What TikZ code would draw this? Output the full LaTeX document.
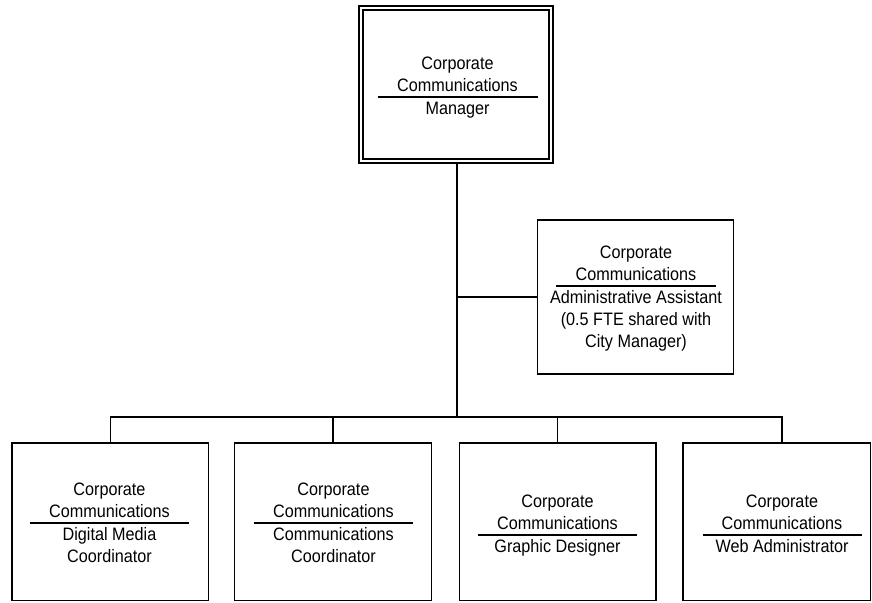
\documentclass[tikz,border=0pt]{standalone}
\usepackage{fontspec}
\setmainfont{Liberation Sans}[FakeStretch=0.9]
\begin{document}
\begin{tikzpicture}[x=1pt,y=-1pt,
  box/.style={draw,line width=1.2pt,rectangle,inner sep=0pt,outer sep=0pt},
  wire/.style={line width=1.3pt},
  titlerule/.style={line width=1.3pt},
  uptext/.style={anchor=south,align=center,inner xsep=0pt,inner ysep=5.5pt,text depth=0pt},
  lowtext/.style={anchor=north,align=center,inner xsep=0pt,inner ysep=4.5pt},
  every node/.append style={font=\fontsize{18}{22}\selectfont}]
\useasboundingbox (0,0) rectangle (872,602);

% manager box with double border
\node[box,double,double distance=2.8pt,minimum width=190pt,minimum height=153pt] (mgr) at (456,84.5) {};
\coordinate (mgrrule) at (457.5,97);
\draw[titlerule] ([xshift=-80pt]mgrrule) -- ([xshift=80pt]mgrrule);
\node[uptext] (mgr-u) at (mgrrule) {Corporate\\Communications};
\node[lowtext] (mgr-l) at (mgrrule) {Manager};

% assistant box
\node[box,minimum width=196pt,minimum height=154pt] (asst) at (635.5,297) {};
\coordinate (asstrule) at (636,286);
\draw[titlerule] ([xshift=-80pt]asstrule) -- ([xshift=80pt]asstrule);
\node[uptext] (asst-u) at (asstrule) {Corporate\\Communications};
\node[lowtext] (asst-l) at (asstrule) {Administrative Assistant\\(0.5 FTE shared with\\City Manager)};

% staff boxes
\node[box,minimum width=196.5pt,minimum height=157.5pt] (b1) at (110.25,521.75) {};
\node[box,minimum width=196.5pt,minimum height=157.5pt] (b2) at (333,521.75) {};
\node[box,minimum width=196.5pt,minimum height=157.5pt] (b3) at (557.75,521.75) {};
\node[box,minimum width=187.5pt,minimum height=157.5pt] (b4) at (776.75,521.75) {};

\coordinate (r1) at (109.5,523);
\coordinate (r2) at (333.5,523);
\coordinate (r3) at (557.5,535);
\coordinate (r4) at (782,535);
\foreach \r in {r1,r2,r3,r4}
  \draw[titlerule] ([xshift=-79.5pt]\r) -- ([xshift=79.5pt]\r);

\node[uptext] (b1-u) at (r1) {Corporate\\Communications};
\node[lowtext] (b1-l) at (r1) {Digital Media\\Coordinator};
\node[uptext] (b2-u) at (r2) {Corporate\\Communications};
\node[lowtext] (b2-l) at (r2) {Communications\\Coordinator};
\node[uptext] (b3-u) at (r3) {Corporate\\Communications};
\node[lowtext] (b3-l) at (r3) {Graphic Designer};
\node[uptext] (b4-u) at (r4) {Corporate\\Communications};
\node[lowtext] (b4-l) at (r4) {Web Administrator};

% connectors
\coordinate (trunk) at (457,163);
\coordinate (bus) at (457,417);
\coordinate (b4top) at (782,443);
\draw[wire] (trunk) -- (bus);
\draw[wire] (trunk |- asst.west) -- (asst.west);
\draw[wire] (bus) -| (b1.north);
\draw[wire] (bus) -| (b2.north);
\draw[wire] (bus) -| (b3.north);
\draw[wire] (bus) -| (b4top);
\end{tikzpicture}
\end{document}
